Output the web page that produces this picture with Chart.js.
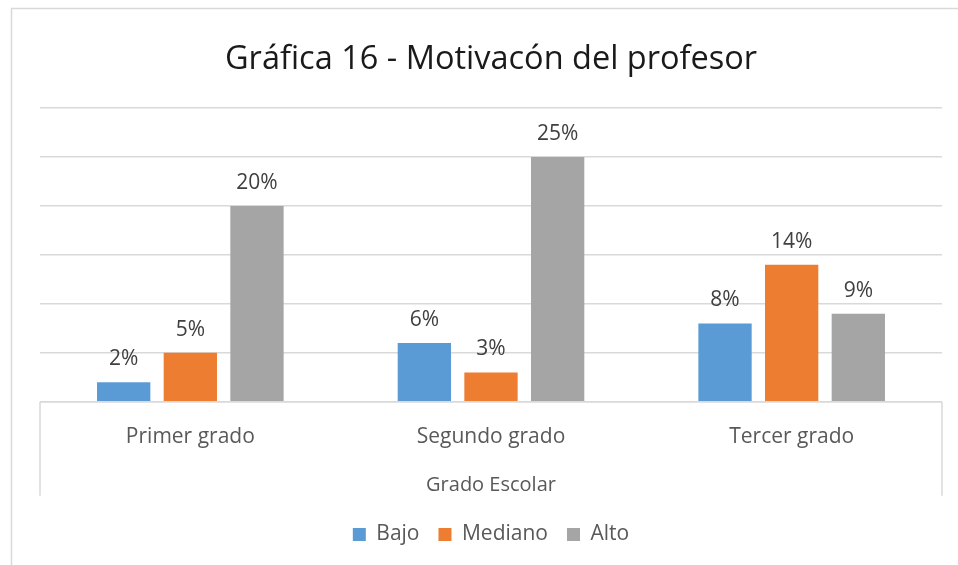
<!DOCTYPE html>
<html>
<head>
<meta charset="utf-8">
<script src="https://cdn.jsdelivr.net/npm/chart.js@4.4.1/dist/chart.umd.min.js"></script>
<style>
  html, body { margin: 0; padding: 0; background: #ffffff; }
  #wrap { position: relative; width: 958px; height: 565px; }
</style>
</head>
<body>
<div id="wrap"><canvas id="c" width="958" height="565"></canvas></div>
<script>
const categories = ['Primer grado', 'Segundo grado', 'Tercer grado'];
const seriesNames = ['Bajo', 'Mediano', 'Alto'];
const bajo = [2, 6, 8];
const mediano = [5, 3, 14];
const alto = [20, 25, 9];
const yTicks = [0, 5, 10, 15, 20, 25, 30];
const chartTitle = 'Gráfica 16 - Motivacón del profesor';
const axisTitle = 'Grado Escolar';

const colors = ['#5B9BD5', '#ED7D31', '#A5A5A5'];
const FONT = '"Open Sans", "DejaVu Sans", sans-serif';

const frameLines = {
  id: 'frameLines',
  beforeDraw(chart) {
    const ctx = chart.ctx;
    ctx.save();
    ctx.strokeStyle = '#d9d9d9';
    ctx.lineWidth = 1.5;
    ctx.strokeRect(11.5, 8.5, 1200, 1200);
    ctx.restore();
  },
  afterDraw(chart) {
    const ctx = chart.ctx;
    const a = chart.chartArea;
    ctx.save();
    ctx.strokeStyle = '#d9d9d9';
    ctx.lineWidth = 1.5;
    ctx.beginPath();
    ctx.moveTo(a.left, a.bottom);
    ctx.lineTo(a.right, a.bottom);
    ctx.moveTo(a.left, a.bottom);
    ctx.lineTo(a.left, a.bottom + 94);
    ctx.moveTo(a.right, a.bottom);
    ctx.lineTo(a.right, a.bottom + 94);
    ctx.stroke();
    ctx.restore();
  }
};

const valueLabels = {
  id: 'valueLabels',
  afterDatasetsDraw(chart) {
    const ctx = chart.ctx;
    ctx.save();
    ctx.font = '21px ' + FONT;
    ctx.fillStyle = '#404040';
    ctx.textAlign = 'center';
    ctx.textBaseline = 'middle';
    chart.data.datasets.forEach((ds, i) => {
      const meta = chart.getDatasetMeta(i);
      meta.data.forEach((el, j) => {
        ctx.fillText(ds.data[j] + '%', el.x, el.y - 23);
      });
    });
    ctx.restore();
  }
};

new Chart(document.getElementById('c'), {
  type: 'bar',
  data: {
    labels: categories,
    datasets: [
      { label: seriesNames[0], data: bajo, backgroundColor: colors[0] },
      { label: seriesNames[1], data: mediano, backgroundColor: colors[1] },
      { label: seriesNames[2], data: alto, backgroundColor: colors[2] }
    ]
  },
  options: {
    responsive: false,
    animation: false,
    devicePixelRatio: 1,
    layout: { padding: { top: 8, left: 40, right: 16, bottom: 10 } },
    datasets: { bar: { categoryPercentage: 0.665, barPercentage: 0.8 } },
    scales: {
      x: {
        grid: { display: false, drawTicks: false },
        border: { display: false },
        ticks: { color: '#595959', font: { family: FONT, size: 21 }, padding: 23 },
        title: { display: true, text: axisTitle, color: '#595959', font: { family: FONT, size: 20 }, padding: { top: 0, bottom: 8 } }
      },
      y: {
        min: yTicks[0],
        max: yTicks[yTicks.length - 1],
        afterBuildTicks(scale) { scale.ticks = yTicks.map(v => ({ value: v })); },
        ticks: { display: false },
        grid: { color: '#d9d9d9', lineWidth: 1.5, drawTicks: false },
        border: { display: false }
      }
    },
    plugins: {
      title: {
        display: true,
        text: chartTitle,
        color: '#1a1a1a',
        font: { family: FONT, size: 32.5, weight: 'normal' },
        padding: { top: 32, bottom: 29 }
      },
      legend: {
        position: 'bottom',
        labels: { color: '#595959', font: { family: FONT, size: 21 }, boxWidth: 13, boxHeight: 13, padding: 19 }
      },
      tooltip: { enabled: false }
    }
  },
  plugins: [frameLines, valueLabels]
});
</script>
</body>
</html>
